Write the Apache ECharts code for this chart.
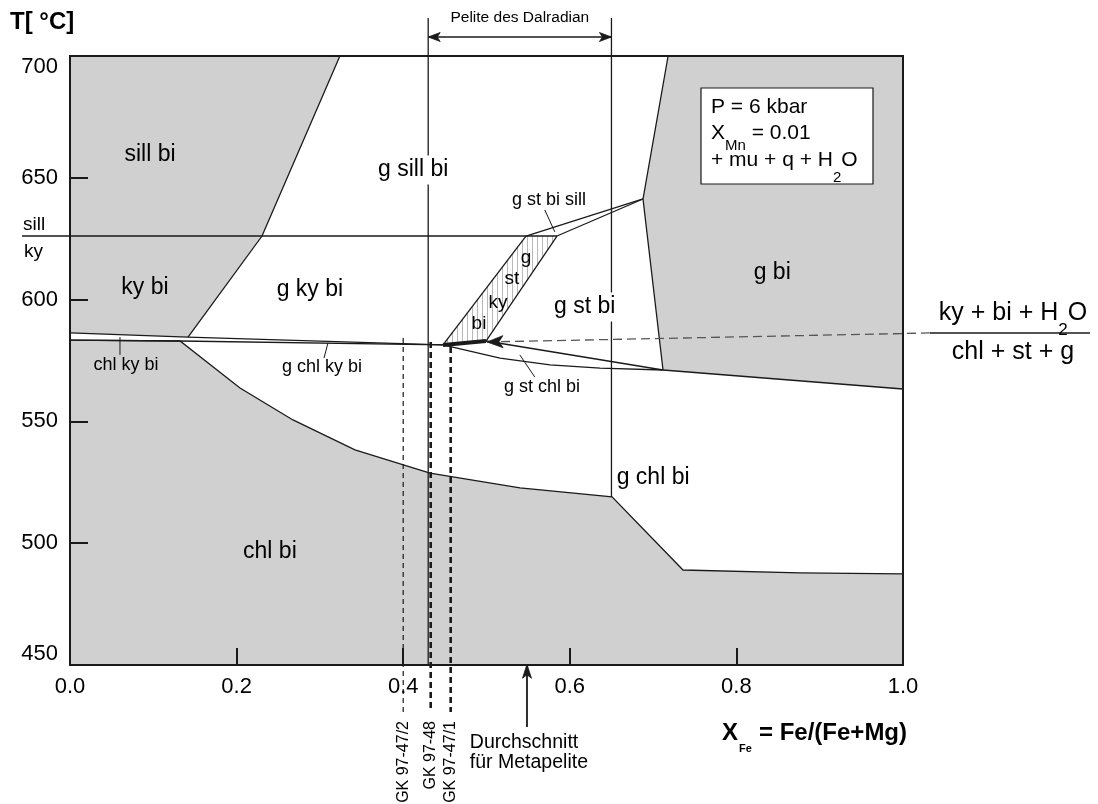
<!DOCTYPE html>
<html>
<head>
<meta charset="utf-8">
<script src="https://cdn.jsdelivr.net/npm/echarts@6/dist/echarts.min.js"></script>
<style>
  html, body { margin: 0; padding: 0; background: #fff; }
  #chart { width: 1098px; height: 804px; }
</style>
</head>
<body>
<div id="chart"></div>
<script>
const FONT = '"Liberation Sans", Arial, Helvetica, sans-serif'
const INK = '#1a1a1a'
const GRAY = '#d0d0d0'

// ---- data: [X_Fe, T] ----
const xRange = [0, 1]
const yRange = [450, 700]

// grey fields
const fieldSillKyBi = [[0, 700], [0.324, 700], [0.2305, 626.1], [0.1417, 584.6], [0, 586.3]]
const fieldGBi = [[0.718, 700], [1, 700], [1, 563.3], [0.7119, 571.1], [0.6879, 641.3]]
const chlBiTop = [[0, 583.4], [0.1321, 583.0], [0.2041, 563.7], [0.2677, 550.6], [0.3421, 538.3],
  [0.4322, 528.8], [0.5402, 522.7], [0.6507, 519.0], [0.7359, 489.0], [0.8763, 487.8], [1, 487.4]]
const fieldChlBi = chlBiTop.concat([[1, 450], [0, 450]])
// hatched g st ky bi field
const fieldHatch = [[0.5474, 626.1], [0.5846, 626.1], [0.4994, 583.0], [0.4478, 581.4]]

// reaction boundaries
const boundaries = [
  [[0.324, 700], [0.2305, 626.1], [0.1417, 584.6]],
  [[0, 586.3], [0.1417, 584.6], [0.4478, 581.4]],
  [[0, 583.4], [0.1321, 583.0], [0.4478, 581.4]],
  chlBiTop,
  [[-0.0576, 626.1], [0.5846, 626.1]],
  [[0.4478, 581.4], [0.5474, 626.1]],
  [[0.4994, 583.0], [0.5846, 626.1]],
  [[0.5474, 626.1], [0.6879, 641.3]],
  [[0.5846, 626.1], [0.6879, 641.3]],
  [[0.718, 700], [0.6879, 641.3], [0.7119, 571.1]],
  [[0.4994, 583.0], [0.7119, 571.1]],
  [[0.4478, 581.4], [0.5162, 576.0], [0.5762, 573.2], [0.6363, 571.9], [0.7119, 571.1]],
  [[0.7119, 571.1], [1, 563.3]],
  [[0.43, 715.6], [0.43, 450]],
  [[0.65, 715.6], [0.65, 519.0]]
]
const invariantLine = [[0.4478, 581.4], [0.4994, 583.0]]
const leaders = [
  [[0.060, 584.6], [0.060, 577.3]],
  [[0.3097, 582.2], [0.3049, 576.0]],
  [[0.570, 636.8], [0.582, 627.8]],
  [[0.540, 577.3], [0.558, 568.2]]
]

// samples
const sampleNames = ['GK 97-47/2', 'GK 97-48', 'GK 97-47/1']
const sampleX = [0.400, 0.433, 0.457]
const sampleTop = [584.2, 582.6, 580.5]
const sampleBottom = 430.7
const sampleLabelTop = 427.0

// arrows: [tip, tail]
const reactionArrow = [[0.5006, 582.6], [1.0324, 586.3]]
const fractionBar = [[1.0324, 586.3], [1.2245, 586.3]]
const dalradianRange = [0.43, 0.65]
const dalradianT = 707.8
const meanXFe = 0.5486
const meanArrow = [[meanXFe, 450.3], [meanXFe, 424.5]]

// labels
const bigLabels = ['sill bi', 'ky bi', 'g ky bi', 'g bi', 'chl bi']
const bigLabelPos = [[0.096, 659.4], [0.090, 604.8], [0.288, 603.9], [0.843, 610.9], [0.240, 496.4]]
const maskedLabels = ['g sill bi', 'g st bi', 'g chl bi']
const maskedLabelPos = [[0.412, 653.2], [0.618, 597.0], [0.700, 526.8]]
const smallLabels = ['chl ky bi', 'g chl ky bi', 'g st chl bi', 'g st bi sill']
const smallLabelPos = [[0.0672, 573.3], [0.3025, 572.3], [0.5666, 564.2], [0.575, 640.9]]
const hatchLabels = ['g', 'st', 'ky', 'bi']
const hatchLabelPos = [[0.5474, 617.1], [0.5306, 608.5], [0.5138, 598.6], [0.491, 590.0]]
const sideLabels = ['sill', 'ky']
const sideLabelPos = [[-0.0564, 630.6], [-0.0552, 619.5]]

// ---- helpers ----
function pts(list, api) { return list.map(p => api.coord(p)) }

function polySeries(polys, style, z) {
  return {
    type: 'custom', coordinateSystem: 'cartesian2d', clip: false, silent: true, z,
    data: polys.map((_, i) => [i]),
    renderItem: (params, api) => ({
      type: 'polygon',
      shape: { points: pts(polys[params.dataIndex], api) },
      style: Object.assign({ stroke: null }, style)
    })
  }
}

function lineSeries(lines, style, z) {
  return {
    type: 'custom', coordinateSystem: 'cartesian2d', clip: false, silent: true, z,
    data: lines.map((_, i) => [i]),
    renderItem: (params, api) => ({
      type: 'polyline',
      shape: { points: pts(lines[params.dataIndex], api) },
      style: Object.assign({ fill: null, stroke: INK, lineWidth: 1.3 }, style)
    })
  }
}

function headPoints(tip, tail, len, hw) {
  const dx = tip[0] - tail[0], dy = tip[1] - tail[1]
  const d = Math.hypot(dx, dy) || 1
  const ux = dx / d, uy = dy / d
  const bx = tip[0] - ux * len, by = tip[1] - uy * len
  const nx = tip[0] - ux * len * 0.75, ny = tip[1] - uy * len * 0.75
  return [tip, [bx - uy * hw, by + ux * hw], [nx, ny], [bx + uy * hw, by - ux * hw]]
}

function arrowSeries(arrows, len, hw, z) {
  return {
    type: 'custom', coordinateSystem: 'cartesian2d', clip: false, silent: true, z,
    data: arrows.map((_, i) => [i]),
    renderItem: (params, api) => {
      const a = arrows[params.dataIndex]
      return {
        type: 'polygon',
        shape: { points: headPoints(api.coord(a[0]), api.coord(a[1]), len, hw) },
        style: { fill: INK, stroke: INK, lineWidth: 0.8 }
      }
    }
  }
}

function textSeries(texts, pos, size, extra, z) {
  return {
    type: 'custom', coordinateSystem: 'cartesian2d', clip: false, silent: true, z,
    data: texts.map((_, i) => [i]),
    renderItem: (params, api) => {
      const p = api.coord(pos[params.dataIndex])
      return {
        type: 'text', x: p[0], y: p[1],
        style: Object.assign({
          text: texts[params.dataIndex], fontSize: size, fontFamily: FONT, fill: '#000',
          align: 'center', verticalAlign: 'middle'
        }, extra || {})
      }
    }
  }
}

// hatching pattern
const hatch = document.createElement('canvas')
hatch.width = 5; hatch.height = 5
const hctx = hatch.getContext('2d')
hctx.fillStyle = '#fff'; hctx.fillRect(0, 0, 5, 5)
hctx.fillStyle = '#b8b8b8'; hctx.fillRect(2, 0, 1, 5)

const chart = echarts.init(document.getElementById('chart'), null, { renderer: 'canvas' })

const sampleLines = sampleX.map((x, i) => [[x, sampleTop[i]], [x, sampleBottom]])

const option = {
  animation: false,
  backgroundColor: '#fff',
  grid: { left: 70, top: 56, width: 833, height: 609, show: false },
  xAxis: {
    type: 'value', min: xRange[0], max: xRange[1], interval: 0.2, z: 5,
    axisLine: { lineStyle: { color: INK, width: 2 } },
    axisTick: { inside: true, length: 17, lineStyle: { color: INK, width: 2 } },
    axisLabel: { fontSize: 22, fontFamily: FONT, color: '#000', margin: 11, formatter: v => v.toFixed(1) },
    splitLine: { show: false }
  },
  yAxis: {
    type: 'value', min: yRange[0], max: yRange[1], interval: 50, z: 5,
    axisLine: { lineStyle: { color: INK, width: 2 } },
    axisTick: { inside: true, length: 18, lineStyle: { color: INK, width: 2 } },
    axisLabel: {
      fontSize: 22, fontFamily: FONT, color: '#000', margin: 12,
      verticalAlignMinLabel: 'bottom', verticalAlignMaxLabel: 'top'
    },
    splitLine: { show: false }
  },
  series: [
    polySeries([fieldSillKyBi, fieldGBi, fieldChlBi], { fill: GRAY }, 1),
    polySeries([fieldHatch], { fill: { image: hatch, repeat: 'repeat' } }, 1),
    lineSeries(boundaries, {}, 2),
    lineSeries(leaders, { lineWidth: 1 }, 2),
    lineSeries([invariantLine], { lineWidth: 4 }, 3),
    lineSeries(sampleLines.slice(0, 1), { lineWidth: 1.2, lineDash: [5, 4] }, 2),
    lineSeries(sampleLines.slice(1), { lineWidth: 2.6, lineDash: [6, 4] }, 2),
    lineSeries([reactionArrow], { stroke: '#555', lineWidth: 1.3, lineDash: [9, 5] }, 2),
    lineSeries([fractionBar], { lineWidth: 1.6 }, 2),
    lineSeries([[[dalradianRange[0], dalradianT], [dalradianRange[1], dalradianT]]], { lineWidth: 1.6 }, 2),
    lineSeries([meanArrow], { lineWidth: 1.8 }, 2),
    arrowSeries([reactionArrow], 16, 6, 3),
    arrowSeries([meanArrow], 14, 4.5, 3),
    arrowSeries([[[dalradianRange[0], dalradianT], [dalradianRange[1], dalradianT]],
      [[dalradianRange[1], dalradianT], [dalradianRange[0], dalradianT]]], 12, 4.5, 3),
    // frame
    {
      type: 'custom', coordinateSystem: 'cartesian2d', clip: false, silent: true, z: 6,
      data: [[0]],
      renderItem: (params, api) => {
        const a = api.coord([xRange[0], yRange[1]]), b = api.coord([xRange[1], yRange[0]])
        return { type: 'rect', shape: { x: a[0], y: a[1], width: b[0] - a[0], height: b[1] - a[1] },
          style: { fill: null, stroke: INK, lineWidth: 2 } }
      }
    },
    textSeries(bigLabels, bigLabelPos, 23, null, 4),
    textSeries(maskedLabels, maskedLabelPos, 23, { backgroundColor: '#fff', padding: [3, 2] }, 4),
    textSeries(smallLabels, smallLabelPos, 18, null, 4),
    textSeries(hatchLabels, hatchLabelPos, 19, null, 4),
    textSeries(sideLabels, sideLabelPos, 19, { align: 'left' }, 4),
    textSeries(['Pelite des Dalradian'], [[(dalradianRange[0] + dalradianRange[1]) / 2, 715.6]], 15.5, null, 4),
    textSeries(['Durchschnitt\nfür Metapelite'], [[0.480, 422.1]], 19.5,
      { align: 'left', verticalAlign: 'top', lineHeight: 20 }, 4),
    // sample labels, rotated
    {
      type: 'custom', coordinateSystem: 'cartesian2d', clip: false, silent: true, z: 4,
      data: sampleNames.map((_, i) => [i]),
      renderItem: (params, api) => {
        const p = api.coord([sampleX[params.dataIndex], sampleLabelTop])
        return {
          type: 'text', x: p[0], y: p[1], rotation: Math.PI / 2,
          style: { text: sampleNames[params.dataIndex], fontSize: 16, fontFamily: FONT, fill: '#000',
            align: 'right', verticalAlign: 'middle' }
        }
      }
    }
  ],
  graphic: [
    { type: 'text', x: 10, y: 22, z: 10,
      style: { text: 'T[ °C]', font: 'bold 24px ' + FONT, fill: '#000', verticalAlign: 'middle' } },
    { type: 'text', x: 722, y: 733, z: 10,
      style: { text: 'X', font: 'bold 24px ' + FONT, fill: '#000', verticalAlign: 'middle' } },
    { type: 'text', x: 739, y: 749, z: 10,
      style: { text: 'Fe', font: 'bold 11px ' + FONT, fill: '#000', verticalAlign: 'middle' } },
    { type: 'text', x: 759, y: 733, z: 10,
      style: { text: '= Fe/(Fe+Mg)', font: 'bold 24px ' + FONT, fill: '#000', verticalAlign: 'middle' } },
    // condition box
    { type: 'rect', z: 10, shape: { x: 701, y: 88, width: 172, height: 96 },
      style: { fill: '#fff', stroke: INK, lineWidth: 1.2 } },
    { type: 'text', x: 711, y: 107, z: 11,
      style: { text: 'P = 6 kbar', font: '21px ' + FONT, fill: '#000', verticalAlign: 'middle' } },
    { type: 'text', x: 711, y: 133, z: 11,
      style: { text: '{n|X}{s|Mn}{n| = 0.01}', verticalAlign: 'middle',
        rich: { n: { fontSize: 21, fontFamily: FONT, fill: '#000' },
                s: { fontSize: 15, fontFamily: FONT, fill: '#000', padding: [26, 0, 0, 0] } } } },
    { type: 'text', x: 711, y: 160, z: 11,
      style: { text: '{n|+ mu + q + H}{s|2}{n|O}', verticalAlign: 'middle',
        rich: { n: { fontSize: 21, fontFamily: FONT, fill: '#000' },
                s: { fontSize: 15, fontFamily: FONT, fill: '#000', padding: [36, 0, 0, 0] } } } },
    // reaction fraction
    { type: 'text', x: 1013, y: 313, z: 11,
      style: { text: '{n|ky + bi + H}{s|2}{n|O}', align: 'center', verticalAlign: 'middle',
        rich: { n: { fontSize: 25, fontFamily: FONT, fill: '#000' },
                s: { fontSize: 17, fontFamily: FONT, fill: '#000', padding: [34, 0, 0, 0] } } } },
    { type: 'text', x: 1013, y: 352, z: 11,
      style: { text: 'chl + st + g', font: '25px ' + FONT, fill: '#000', align: 'center', verticalAlign: 'middle' } }
  ]
}

chart.setOption(option)
</script>
</body>
</html>
